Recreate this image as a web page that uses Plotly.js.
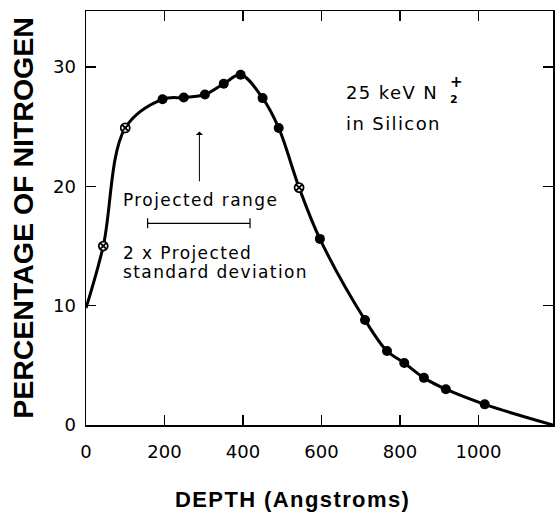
<!DOCTYPE html>
<html>
<head>
<meta charset="utf-8">
<script src="https://cdn.plot.ly/plotly-3.0.1.min.js"></script>
<style>
  html, body { margin: 0; padding: 0; background: #fff; }
  #chart { width: 555px; height: 513px; }
  .annotation-text { letter-spacing: 1.4px; }
</style>
</head>
<body>
<div id="chart"></div>
<script>
// Smooth profile curve (depth in Angstroms, % nitrogen)
const curveDepth = [0, 44, 100, 195, 249, 303, 351, 394, 450, 491, 543, 596, 711, 767, 811, 861, 917, 1016, 1190];
const curvePct   = [9.8, 15.0, 24.9, 27.3, 27.45, 27.7, 28.6, 29.35, 27.4, 24.9, 19.9, 15.6, 8.8, 6.2, 5.2, 3.95, 3.0, 1.73, 0];

// Measured points: filled circles
const filledDepth = [195, 249, 303, 351, 394, 450, 491, 596, 711, 767, 811, 861, 917, 1016];
const filledPct   = [27.3, 27.45, 27.7, 28.6, 29.35, 27.4, 24.9, 15.6, 8.8, 6.2, 5.2, 3.95, 3.0, 1.73];

// Measured points: open crossed circles
const openDepth = [44, 100, 543];
const openPct   = [15.0, 24.9, 19.9];

// Projected range arrow and 2 x projected standard deviation bar
const rangeArrowDepth = [289];
const rangeArrowPct   = [20.3, 24.6];
const sdCenterDepth = [287.5];
const sdCenterPct   = [16.9];
const sdHalfWidth   = [130.5];

const xTickVals = [0, 200, 400, 600, 800, 1000];
const xTickText = ['0', '200', '400', '600', '800', '1000'];
const yTickVals = [0, 10, 20, 30];
const yTickText = ['0', '10', '20', '30'];

const traces = [
  {
    x: curveDepth, y: curvePct, mode: 'lines', type: 'scatter',
    line: { color: '#000', width: 3, shape: 'spline', smoothing: 1 },
    hoverinfo: 'skip', showlegend: false, cliponaxis: false
  },
  {
    x: filledDepth, y: filledPct, mode: 'markers', type: 'scatter',
    marker: { symbol: 'circle', size: 10, color: '#000' },
    showlegend: false, cliponaxis: false
  },
  {
    x: openDepth, y: openPct, mode: 'markers', type: 'scatter',
    marker: { symbol: 'circle-x', size: 9, color: '#fff', line: { color: '#000', width: 1.8 } },
    showlegend: false, cliponaxis: false
  },
  {
    x: sdCenterDepth, y: sdCenterPct, mode: 'markers', type: 'scatter',
    marker: { size: 1, color: 'rgba(0,0,0,0)' },
    error_x: { type: 'data', array: sdHalfWidth, symmetric: true, color: '#000', thickness: 1.2, width: 5 },
    showlegend: false, hoverinfo: 'skip'
  }
];

const textFont = { family: 'DejaVu Sans, Arial, sans-serif', size: 17, color: '#000' };

const layout = {
  width: 555, height: 513,
  margin: { l: 86, r: 2, t: 11, b: 88 },
  paper_bgcolor: '#fff', plot_bgcolor: '#fff',
  showlegend: false,
  hovermode: false,
  xaxis: {
    range: [0, 1190],
    tickvals: xTickVals, ticktext: xTickText,
    ticks: 'inside', ticklen: 10, tickwidth: 1.5, tickcolor: '#000',
    showline: true, linecolor: '#000', linewidth: 1.5, mirror: 'ticks',
    showgrid: false, zeroline: false,
    tickfont: { family: 'DejaVu Sans, sans-serif', size: 18, color: '#000' },
    ticklabelstandoff: 10,
    automargin: false
  },
  yaxis: {
    range: [0, 34.7],
    tickvals: yTickVals, ticktext: yTickText,
    ticks: 'inside', ticklen: 10, tickwidth: 1.5, tickcolor: '#000',
    showline: true, linecolor: '#000', linewidth: 1.5, mirror: 'ticks',
    showgrid: false, zeroline: false,
    tickfont: { family: 'DejaVu Sans, sans-serif', size: 18, color: '#000' },
    ticklabelstandoff: 5,
    title: { text: 'PERCENTAGE OF NITROGEN', font: { family: 'Liberation Sans, Arial, sans-serif', size: 28.5, color: '#000', weight: 'bold' }, standoff: 11 },
    automargin: false
  },
  annotations: [
    { x: 525, y: -0.18, xref: 'x', yref: 'paper', text: 'DEPTH (Angstroms)', showarrow: false, xanchor: 'center', yanchor: 'middle',
      font: { family: 'Liberation Sans, Arial, sans-serif', size: 22, color: '#000', weight: 'bold' } },
    { x: 657, y: 27.9, xref: 'x', yref: 'y', text: '25 keV N', showarrow: false, xanchor: 'left', yanchor: 'middle', font: { ...textFont, size: 18 } },
    { x: 940, y: 27.25, xref: 'x', yref: 'y', text: '2', showarrow: false, xanchor: 'center', yanchor: 'middle', font: { ...textFont, size: 11, weight: 'bold' } },
    { x: 946, y: 28.75, xref: 'x', yref: 'y', text: '+', showarrow: false, xanchor: 'center', yanchor: 'middle', font: { ...textFont, size: 15, weight: 'bold' } },
    { x: 657, y: 25.3, xref: 'x', yref: 'y', text: 'in Silicon', showarrow: false, xanchor: 'left', yanchor: 'middle', font: { ...textFont, size: 18 } },
    { x: 88, y: 18.9, xref: 'x', yref: 'y', text: 'Projected range', showarrow: false, xanchor: 'left', yanchor: 'middle', font: textFont },
    { x: 90, y: 14.4, xref: 'x', yref: 'y', text: '2 x Projected', showarrow: false, xanchor: 'left', yanchor: 'middle', font: textFont },
    { x: 90, y: 12.85, xref: 'x', yref: 'y', text: 'standard deviation', showarrow: false, xanchor: 'left', yanchor: 'middle', font: textFont },
    { x: rangeArrowDepth[0], y: rangeArrowPct[1], ax: rangeArrowDepth[0], ay: rangeArrowPct[0],
      xref: 'x', yref: 'y', axref: 'x', ayref: 'y', text: '', showarrow: true,
      arrowhead: 1, arrowsize: 1.2, arrowwidth: 1, arrowcolor: '#000' }
  ]
};

Plotly.newPlot('chart', traces, layout, { displayModeBar: false, staticPlot: true });
</script>
</body>
</html>
